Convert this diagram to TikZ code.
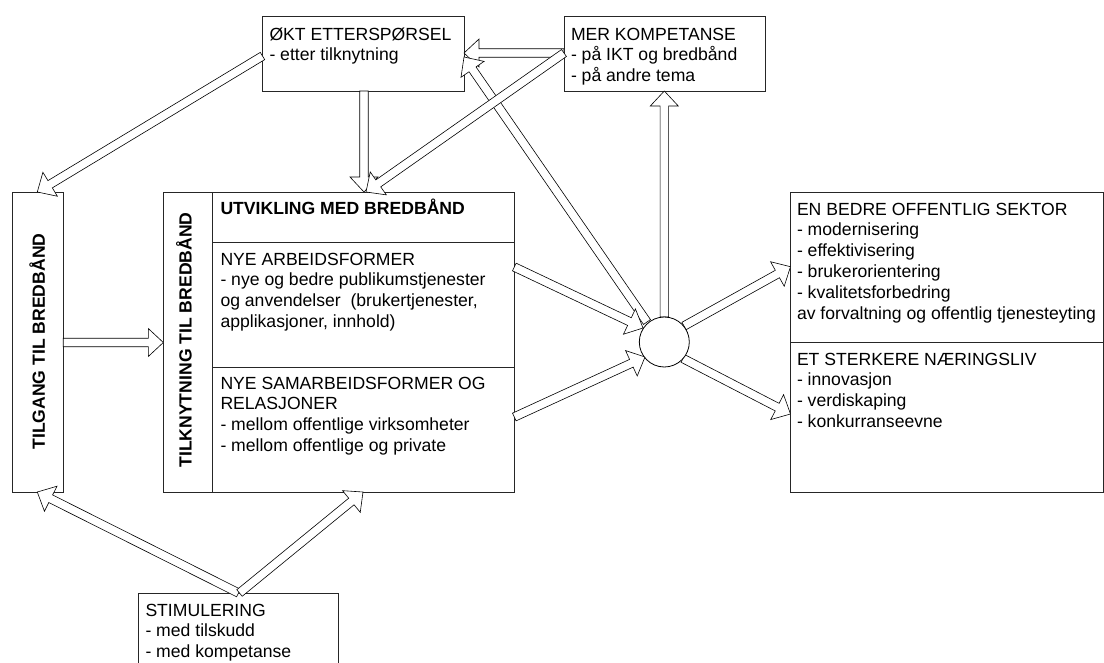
\documentclass[tikz,border=0pt]{standalone}
\usepackage{fontspec}
\setmainfont{Liberation Sans}
\usetikzlibrary{calc}
\tikzset{
  box/.style={draw=black!85, line width=0.9pt, rectangle, inner sep=0pt, outer sep=0pt, anchor=north west},
  boxline/.style={draw=black!85, line width=0.9pt},
  arr/.style={draw=black, fill=white, line width=0.6pt, line join=miter},
  txt/.style={anchor=base west, inner sep=0pt, outer sep=0pt, font=\fontsize{17.6}{20.8}\selectfont},
  vtxt/.style={anchor=base, rotate=90, inner sep=0pt, outer sep=0pt, font=\fontsize{17.6}{20.8}\selectfont\bfseries},
}
\newcommand\txtblock[1]{\vtop{\baselineskip=20.8pt\lineskiplimit=-30pt\relax #1}}
\newcommand\tline[1]{\hbox{#1}}
\newcommand\blockarrow[2]{%
  \coordinate (bh) at ($(#2)!15pt!(#1)$);
  \draw[arr] ($(#1)!4.25pt!90:(#2)$) -- ($(bh)!4.25pt!90:(#2)$) -- ($(bh)!14pt!90:(#2)$)
     -- (#2) -- ($(bh)!14pt!-90:(#2)$) -- ($(bh)!4.25pt!-90:(#2)$) -- ($(#1)!4.25pt!-90:(#2)$) -- cycle;
}
\begin{document}
\begin{tikzpicture}[x=1pt,y=-1pt]
\useasboundingbox (0,0) rectangle (1104,662);
\fill[white] (0,0) rectangle (1104,662);

% boxes
\node[box, minimum width=201.5pt, minimum height=75pt] (okt) at (262.5,16) {};
\node[box, minimum width=201pt, minimum height=75pt] (mer) at (564,16) {};
\node[box, minimum width=50.5pt, minimum height=300pt] (tilg) at (12.7,192) {};
\node[box, minimum width=351pt, minimum height=300pt] (main) at (163.3,192) {};
\node[box, minimum width=313pt, minimum height=300pt] (right) at (790.5,192) {};
\node[box, minimum width=200pt, minimum height=90pt] (stim) at (138.5,593) {};

% dividers
\draw[boxline] ($(main.north west)+(49.2,0)$) -- ($(main.south west)+(49.2,0)$);
\draw[boxline] ($(main.north west)+(49.2,50)$) -- ($(main.north east)+(0,50)$);
\draw[boxline] ($(main.north west)+(49.2,175.3)$) -- ($(main.north east)+(0,175.3)$);
\draw[boxline] ($(right.north west)+(0,150.3)$) -- ($(right.north east)+(0,150.3)$);

% texts
\node[txt] (oktT) at (269.5,40) {\txtblock{\tline{ØKT ETTERSPØRSEL}\tline{- etter tilknytning}}};
\node[txt] (merT) at (571,40) {\txtblock{\tline{MER KOMPETANSE}\tline{- på IKT og bredbånd}\tline{- på andre tema}}};
\node[txt, font=\fontsize{17.6}{20.8}\selectfont\bfseries] (mainH) at (220.5,214) {UTVIKLING MED BREDBÅND};
\node[txt] (mainA) at (220.5,265) {\txtblock{\tline{NYE ARBEIDSFORMER}\tline{- nye og bedre publikumstjenester}\tline{og anvendelser\ \ (brukertjenester,}\tline{applikasjoner, innhold)}}};
\node[txt] (mainB) at (220.5,389) {\txtblock{\tline{NYE SAMARBEIDSFORMER OG}\tline{RELASJONER}\tline{- mellom offentlige virksomheter}\tline{- mellom offentlige og private}}};
\node[txt] (rightA) at (797,215) {\txtblock{\tline{EN BEDRE OFFENTLIG SEKTOR}\tline{- modernisering}\tline{- effektivisering}\tline{- brukerorientering}\tline{- kvalitetsforbedring}\tline{av forvaltning og offentlig tjenesteyting}}};
\node[txt] (rightB) at (797,365) {\txtblock{\tline{ET STERKERE NÆRINGSLIV}\tline{- innovasjon}\tline{- verdiskaping}\tline{- konkurranseevne}}};
\node[txt] (stimT) at (145.5,616) {\txtblock{\tline{STIMULERING}\tline{- med tilskudd}\tline{- med kompetanse}}};
\node[vtxt] (tilgT) at (45,341.5) {TILGANG TIL BREDBÅND};
\node[vtxt] (tilkT) at (191.5,340) {TILKNYTNING TIL BREDBÅND};

% hub position
\coordinate (hubc) at (664.3,342);

% connector end points
\coordinate (a1s) at ($(okt.north west)+(0,40)$);
\coordinate (a1e) at ($(tilg.north west)+(24.6,0)$);
\coordinate (a2s) at ($(okt.south west)+(101.5,0)$);
\coordinate (a2e) at ($(main.north west)+(200.7,0)$);
\coordinate (a3s) at ($(mer.north west)+(0,37)$);
\coordinate (a3e) at ($(main.north west)+(202.7,0)$);
\coordinate (a4e) at ($(okt.north east)+(0,37)$);
\coordinate (a5s) at ($(hubc)+(-17.3,-20)$);
\coordinate (a5e) at ($(okt.north east)+(0,41)$);
\coordinate (a6s) at ($(hubc)+(0,-25)$);
\coordinate (a6e) at ($(mer.south west)+(100.3,0)$);
\coordinate (a7s) at ($(main.north east)+(0,75)$);
\coordinate (a7e) at ($(hubc)+(-21.3,-14)$);
\coordinate (a8s) at ($(main.north east)+(0,225)$);
\coordinate (a8e) at ($(hubc)+(-19.3,15)$);
\coordinate (a9s) at ($(hubc)+(19.7,-16)$);
\coordinate (a9e) at ($(right.north west)+(0,74.7)$);
\coordinate (a10s) at ($(hubc)+(18.7,16.5)$);
\coordinate (a10e) at ($(right.north west)+(0,222)$);
\coordinate (a11s) at ($(stim.north west)+(100,0)$);
\coordinate (a11e) at ($(tilg.south west)+(24.6,0)$);
\coordinate (a12s) at ($(stim.north west)+(101,0)$);
\coordinate (a12e) at ($(main.south west)+(199.7,0)$);
\coordinate (a13s) at ($(tilg.north east)+(0,150.5)$);
\coordinate (a13e) at ($(main.north west)+(0,150.5)$);

% block arrows
\blockarrow{a1s}{a1e}
\blockarrow{a2s}{a2e}
\blockarrow{a3s}{a4e}
\blockarrow{a5s}{a5e}
\blockarrow{a3s}{a3e}
\blockarrow{a6s}{a6e}
\blockarrow{a7s}{a7e}
\blockarrow{a8s}{a8e}
\blockarrow{a9s}{a9e}
\blockarrow{a10s}{a10e}
\blockarrow{a11s}{a11e}
\blockarrow{a12s}{a12e}
\blockarrow{a13s}{a13e}

% hub circle
\node[circle, draw=black, fill=white, line width=0.8pt, minimum size=50pt, inner sep=0pt] (hub) at (hubc) {};
\end{tikzpicture}
\end{document}
